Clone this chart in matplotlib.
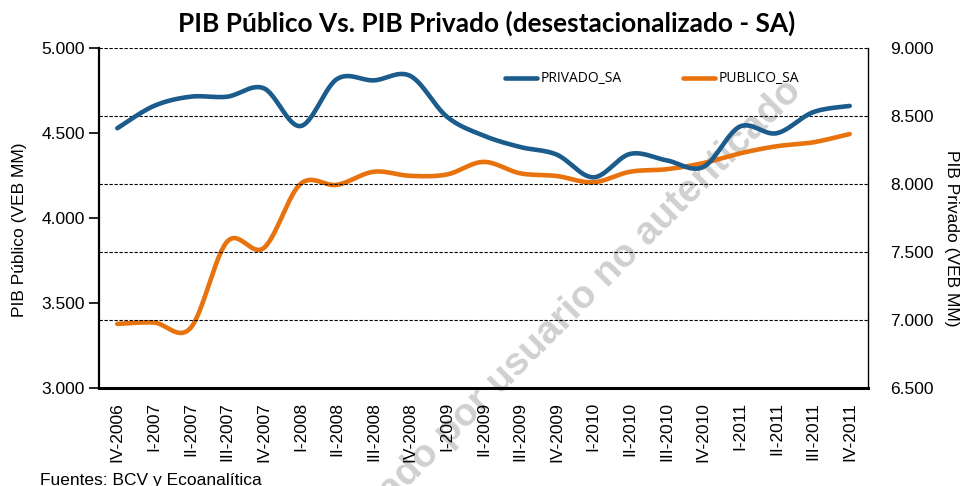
import numpy as np
import matplotlib
matplotlib.use('Agg')
import matplotlib.pyplot as plt
from matplotlib.lines import Line2D

quarters = ['IV-2006', 'I-2007', 'II-2007', 'III-2007', 'IV-2007',
            'I-2008', 'II-2008', 'III-2008', 'IV-2008',
            'I-2009', 'II-2009', 'III-2009', 'IV-2009',
            'I-2010', 'II-2010', 'III-2010', 'IV-2010',
            'I-2011', 'II-2011', 'III-2011', 'IV-2011']
publico = [3377, 3385, 3353, 3861, 3824, 4200, 4195, 4272, 4248, 4256,
           4330, 4263, 4247, 4210, 4272, 4287, 4323, 4380, 4422, 4445, 4494]
privado = [8410, 8574, 8642, 8642, 8704, 8426, 8772, 8762, 8795, 8495,
           8356, 8272, 8216, 8049, 8221, 8174, 8125, 8422, 8373, 8528, 8574]

left_ticks = [3000, 3500, 4000, 4500, 5000]
right_ticks = [6500, 7000, 7500, 8000, 8500, 9000]

BLUE = '#1B5C8C'
ORANGE = '#E8730E'
W, H = 962, 486


def fmt(v):
    return f"{v:,.0f}".replace(',', '.')


def smooth(y, n=30):
    # Excel-like smoothed line (uniform Catmull-Rom through the data points)
    y = np.asarray(y, float)
    x = np.arange(len(y), dtype=float)
    xs, ys = [], []
    for i in range(len(y) - 1):
        i0, i3 = max(i - 1, 0), min(i + 2, len(y) - 1)
        p0, p1, p2, p3 = y[i0], y[i], y[i + 1], y[i3]
        q0, q1, q2, q3 = x[i0], x[i], x[i + 1], x[i3]
        t = np.linspace(0, 1, n, endpoint=False)
        b = [(1 - t) ** 3, 3 * t * (1 - t) ** 2, 3 * t ** 2 * (1 - t), t ** 3]
        c1y, c2y = p1 + (p2 - p0) / 6, p2 - (p3 - p1) / 6
        c1x, c2x = q1 + (q2 - q0) / 6, q2 - (q3 - q1) / 6
        ys.append(b[0] * p1 + b[1] * c1y + b[2] * c2y + b[3] * p2)
        xs.append(b[0] * q1 + b[1] * c1x + b[2] * c2x + b[3] * q2)
    xs.append([x[-1]]); ys.append([y[-1]])
    return np.concatenate(xs), np.concatenate(ys)


fig = plt.figure(figsize=(W / 100, H / 100), dpi=100)
ax = fig.add_axes([99 / W, 1 - 388 / H, (868 - 99) / W, (388 - 48) / H])
ax2 = ax.twinx()
ax.patch.set_visible(False)
ax2.patch.set_visible(False)

x = np.arange(len(quarters))
ax.set_xlim(-0.5, len(quarters) - 0.5)
ax.set_ylim(3000, 5000)
ax2.set_ylim(6500, 9000)

ax.set_yticks(left_ticks)
ax.set_yticklabels([fmt(v) for v in left_ticks], fontsize=12.5, family='Liberation Sans')
ax2.set_yticks(right_ticks)
ax2.set_yticklabels([fmt(v) for v in right_ticks], fontsize=12.5, family='Liberation Sans')
ax.set_xticks(x)
ax.set_xticklabels(quarters, rotation=90, fontsize=12.5, family='Liberation Sans')

ax.tick_params(axis='y', direction='out', length=7, width=1.2, pad=3)
ax.tick_params(axis='x', length=0, pad=10)
ax2.tick_params(axis='y', length=0, pad=16)

# gridlines from right axis ticks
for v in right_ticks[1:]:
    ax2.axhline(v, color='black', lw=0.8, ls=(0, (3, 1.5)), zorder=1)

for a in (ax, ax2):
    a.spines['top'].set_visible(False)
ax.spines['left'].set_linewidth(1.6)
ax.spines['bottom'].set_linewidth(2.2)
ax2.spines['bottom'].set_visible(False)
ax2.spines['left'].set_visible(False)
ax2.spines['right'].set_linewidth(1.0)
ax.spines['right'].set_visible(False)

xs, ys = smooth(publico)
ax.plot(xs, ys, color=ORANGE, lw=3.3, solid_capstyle='round', zorder=3)
xs2, ys2 = smooth(privado)
ax2.plot(xs2, ys2, color=BLUE, lw=3.3, solid_capstyle='round', zorder=3)

# legends
h1 = Line2D([], [], color=BLUE, lw=3.3, solid_capstyle='round')
h2 = Line2D([], [], color=ORANGE, lw=3.3, solid_capstyle='round')
leg_kw = dict(frameon=False, borderpad=0, borderaxespad=0,
              handlelength=2.3, handletextpad=0.3, loc='center left',
              bbox_transform=fig.transFigure, prop={'family': 'Open Sans', 'size': 10})
leg1 = ax2.legend([h1], ['PRIVADO_SA'], bbox_to_anchor=(505 / W, 1 - 79 / H), **leg_kw)
ax2.add_artist(leg1)
leg2 = ax2.legend([h2], ['PUBLICO_SA'], bbox_to_anchor=(683 / W, 1 - 79 / H), **leg_kw)

# axis labels
fig.text(20 / W, 1 - 230 / H, 'PIB Público (VEB MM)', rotation=90, ha='center', va='center',
         fontsize=12.5, family='Liberation Sans')
fig.text(952 / W, 1 - 238 / H, 'PIB Privado (VEB MM)', rotation=270, ha='center', va='center',
         fontsize=12.5, family='Liberation Sans')

# title
title = fig.text(486.5 / W, 1 - 32 / H, 'PIB Público Vs. PIB Privado (desestacionalizado - SA)',
                 ha='center', va='baseline', fontsize=17, fontweight='bold', family='Lato')
fig.canvas.draw()
wpx = title.get_window_extent().width
title.set_fontsize(17 * 617 / wpx)

# source
fig.text(40 / W, 1 - 484.5 / H, 'Fuentes: BCV y Ecoanalítica', ha='left', va='baseline',
         fontsize=12.5, family='Liberation Sans')

# watermark (behind the chart)
fig.text(796 / W, 1 - 86 / H, 'Documento generado por usuario no autenticado',
         rotation=45, rotation_mode='anchor', ha='right', va='center',
         fontsize=28, fontweight='bold', family='Liberation Sans', color='#d0d0d0',
         zorder=-1)

fig.savefig('out.png', dpi=100)
